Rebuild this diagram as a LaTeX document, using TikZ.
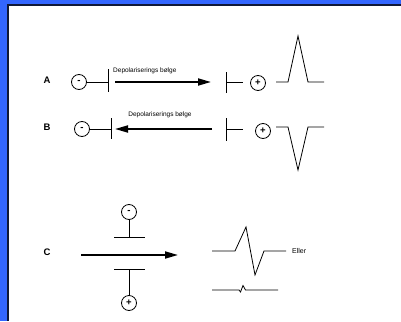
\documentclass[tikz,border=0pt]{standalone}
\usepackage{fontspec}
\setmainfont{Liberation Sans}
\usetikzlibrary{arrows.meta}
\definecolor{bgblue}{HTML}{3366FF}
\definecolor{edge}{HTML}{101838}
\tikzset{
  pole/.style={draw, circle, line width=0.8pt, minimum size=15pt, inner sep=0pt, font=\fontsize{9.5}{9.5}\selectfont\bfseries},
  lbl/.style={font=\fontsize{9.5}{10}\selectfont\bfseries, inner sep=0pt},
  small/.style={font=\fontsize{6.5}{7}\selectfont, inner sep=0pt},
  wire/.style={line width=0.8pt},
  wave/.style={line width=0.8pt, line join=miter},
  wavefront/.style={line width=1.8pt, -{Triangle[length=13pt,width=7pt]}}
}
\begin{document}
\begin{tikzpicture}[x=1pt,y=-1pt]
\useasboundingbox (0,0) rectangle (401,321);
\fill[bgblue] (0,0) rectangle (401,321);
\fill[white] (8,5) rectangle (401,321);
\draw[edge, line width=1.6pt] (7.8,321) -- (7.8,5.2) -- (401,5.2);
% Row A
\node[lbl] (la) at (47,80) {A};
\node[pole] (ma) at (79,82) {-};
\coordinate (bat) at (108,69); \coordinate (bab) at (108,92);
\draw[wire] (bat) -- (bab);
\draw[wire] (ma.east) -- (bat |- ma.east);
\coordinate (as) at (115,82); \coordinate (ae) at (211,82);
\draw[wavefront] (as) -- (ae);
\node[small, anchor=west] (ta) at (113,71) {Depolariserings bølge};
\coordinate (bat2) at (226,72); \coordinate (bab2) at (226,93);
\draw[wire] (bat2) -- (bab2);
\coordinate (bam) at (226,82);
\node[pole] (pa) at (258,83) {+};
\draw[wire] (bam) -- (243,82);
\draw[wave] (276,82) -- (288,82) -- (298,36) -- (308,82) -- (324,82);
% Row B
\node[lbl] (lb) at (47,127) {B};
\node[pole] (mb) at (82,129) {-};
\coordinate (bbt) at (111,118); \coordinate (bbb) at (111,139);
\draw[wire] (bbt) -- (bbb);
\draw[wire] (mb.east) -- (bbt |- mb.east);
\coordinate (bs) at (212,129); \coordinate (be) at (115,129);
\draw[wavefront] (bs) -- (be);
\node[small] (tb) at (160,115) {Depolariserings bølge};
\coordinate (bbt2) at (226,118); \coordinate (bbb2) at (226,141);
\draw[wire] (bbt2) -- (bbb2);
\coordinate (bbm) at (226,129);
\draw[wire] (bbm) -- (243,129);
\node[pole] (pb) at (263,131) {+};
\draw[wave] (276,127) -- (288,127) -- (298,170) -- (308,127) -- (324,127);
% Row C
\node[lbl] (lc) at (47,252) {C};
\coordinate (cs) at (81,255); \coordinate (ce) at (178,255);
\draw[wavefront] (cs) -- (ce);
\node[pole] (mc) at (129,212) {-};
\coordinate (ct) at (129,237);
\draw[wire] (mc.south) -- (ct);
\draw[wire] (114,237) -- (145,237);
\node[pole] (pc) at (129,303) {+};
\coordinate (cb) at (129,269);
\draw[wire] (cb) -- (pc.north);
\draw[wire] (114,269) -- (145,269);
\draw[wave] (212,251) -- (235,251) -- (246,227) -- (255,275) -- (264,251) -- (286,251);
\node[small, anchor=west, font=\fontsize{7}{7}\selectfont] (eller) at (292,251) {Eller};
\draw[wave] (212,290) -- (239,290) -- (240.5,292) -- (243,285.5) -- (245.5,290) -- (278,290);
\end{tikzpicture}
\end{document}
